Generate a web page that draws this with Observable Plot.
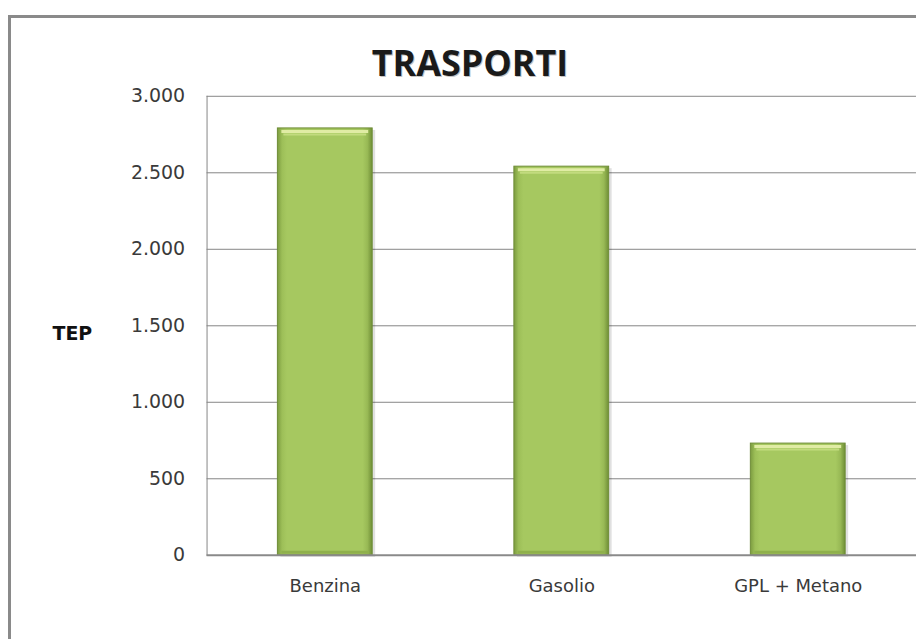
<!DOCTYPE html>
<html>
<head>
<meta charset="utf-8">
<script src="https://cdn.jsdelivr.net/npm/d3@7"></script>
<script src="https://cdn.jsdelivr.net/npm/@observablehq/plot@0.6"></script>
<style>
  html, body { margin: 0; padding: 0; background: #fff; width: 916px; height: 639px; overflow: hidden; }
  #wrap { position: relative; width: 916px; height: 639px; }
  #border { position: absolute; left: 8px; top: 15px; width: 1200px; height: 900px; border: 3px solid #8a8a8a; box-sizing: border-box; }
  #chart { position: absolute; left: 0; top: 0; }
</style>
</head>
<body>
<div id="wrap">
  <div id="border"></div>
  <div id="chart"></div>
</div>
<script>
const categories = ["Benzina", "Gasolio", "GPL + Metano"];
const values = [2790, 2540, 730];
const yTicks = [0, 500, 1000, 1500, 2000, 2500, 3000];
const title = "TRASPORTI";
const yLabel = "TEP";

const data = categories.map((c, i) => ({category: c, value: values[i]}));
const itLocale = d3.formatLocale({decimal: ",", thousands: ".", grouping: [3], currency: ["", " €"]});
const fmt = itLocale.format(",");

const defs = () => {
  const ns = "http://www.w3.org/2000/svg";
  const d = document.createElementNS(ns, "defs");
  d.innerHTML = `
    <linearGradient id="bevelH" x1="0" x2="1" y1="0" y2="0">
      <stop offset="0" stop-color="#7c9c40"/>
      <stop offset="0.05" stop-color="#9dbf58"/>
      <stop offset="0.1" stop-color="#a6c860"/>
      <stop offset="0.9" stop-color="#a6c860"/>
      <stop offset="0.95" stop-color="#98b955"/>
      <stop offset="1" stop-color="#6f8e36"/>
    </linearGradient>`;
  return d;
};

const chart = Plot.plot({
  width: 918,
  height: 639,
  marginLeft: 207,
  marginRight: 0,
  marginTop: 96,
  marginBottom: 83,
  style: {background: "transparent", overflow: "visible"},
  x: {domain: categories, paddingInner: 0.6, paddingOuter: 0.3, label: null},
  y: {domain: [0, 3000], label: null},
  marks: [
    defs,
    Plot.ruleY(yTicks.filter(t => t > 0), {stroke: "#868686", strokeWidth: 1}),
    Plot.frame({anchor: "left", stroke: "#868686", strokeWidth: 1}),
    Plot.barY(data, {x: "category", y: "value", fill: "#000", fillOpacity: 0.12, dx: 3, dy: 2}),
    Plot.barY(data, {x: "category", y: "value", fill: "url(#bevelH)", stroke: "#6f8d37", strokeWidth: 1}),
    Plot.tickY(data, {x: "category", y: "value", stroke: "#e0ec a4".replace(" ", ""), strokeWidth: 3, dy: 3, insetLeft: 4, insetRight: 4}),
    Plot.tickY(data, {x: "category", y: "value", stroke: "#c2db7e", strokeWidth: 2, dy: 6, insetLeft: 6, insetRight: 6}),
    Plot.tickY(data, {x: "category", y: () => 0, stroke: "#8fb04c", strokeWidth: 3, dy: -3, insetLeft: 4, insetRight: 4}),
    Plot.ruleY([0], {stroke: "#8a8a8a", strokeWidth: 2}),
    Plot.axisY({ticks: yTicks, tickSize: 0, tickPadding: 22, tickFormat: fmt, fontSize: 19, fill: "#3a3a3a", fontFamily: "DejaVu Sans"}),
    Plot.axisX({tickSize: 0, tickPadding: 24, fontSize: 18, fill: "#3a3a3a", fontFamily: "DejaVu Sans"}),
    Plot.text([title], {frameAnchor: "top", dx: -92 + 1, dy: -20 + 1, lineAnchor: "bottom", textAnchor: "middle", fontSize: 36, fontWeight: "bold", fontFamily: "Open Sans", fill: "#c4c4c4", text: d => d}),
    Plot.text([title], {frameAnchor: "top", dx: -92, dy: -20, lineAnchor: "bottom", textAnchor: "middle", fontSize: 36, fontWeight: "bold", fontFamily: "Open Sans", fill: "#1a1a1a", text: d => d}),
    Plot.text([yLabel], {frameAnchor: "left", dx: -135, dy: 14, lineAnchor: "bottom", textAnchor: "middle", fontSize: 19, fontWeight: "bold", fontFamily: "DejaVu Sans", fill: "#111", text: d => d})
  ]
});
document.getElementById("chart").appendChild(chart);
</script>
</body>
</html>
